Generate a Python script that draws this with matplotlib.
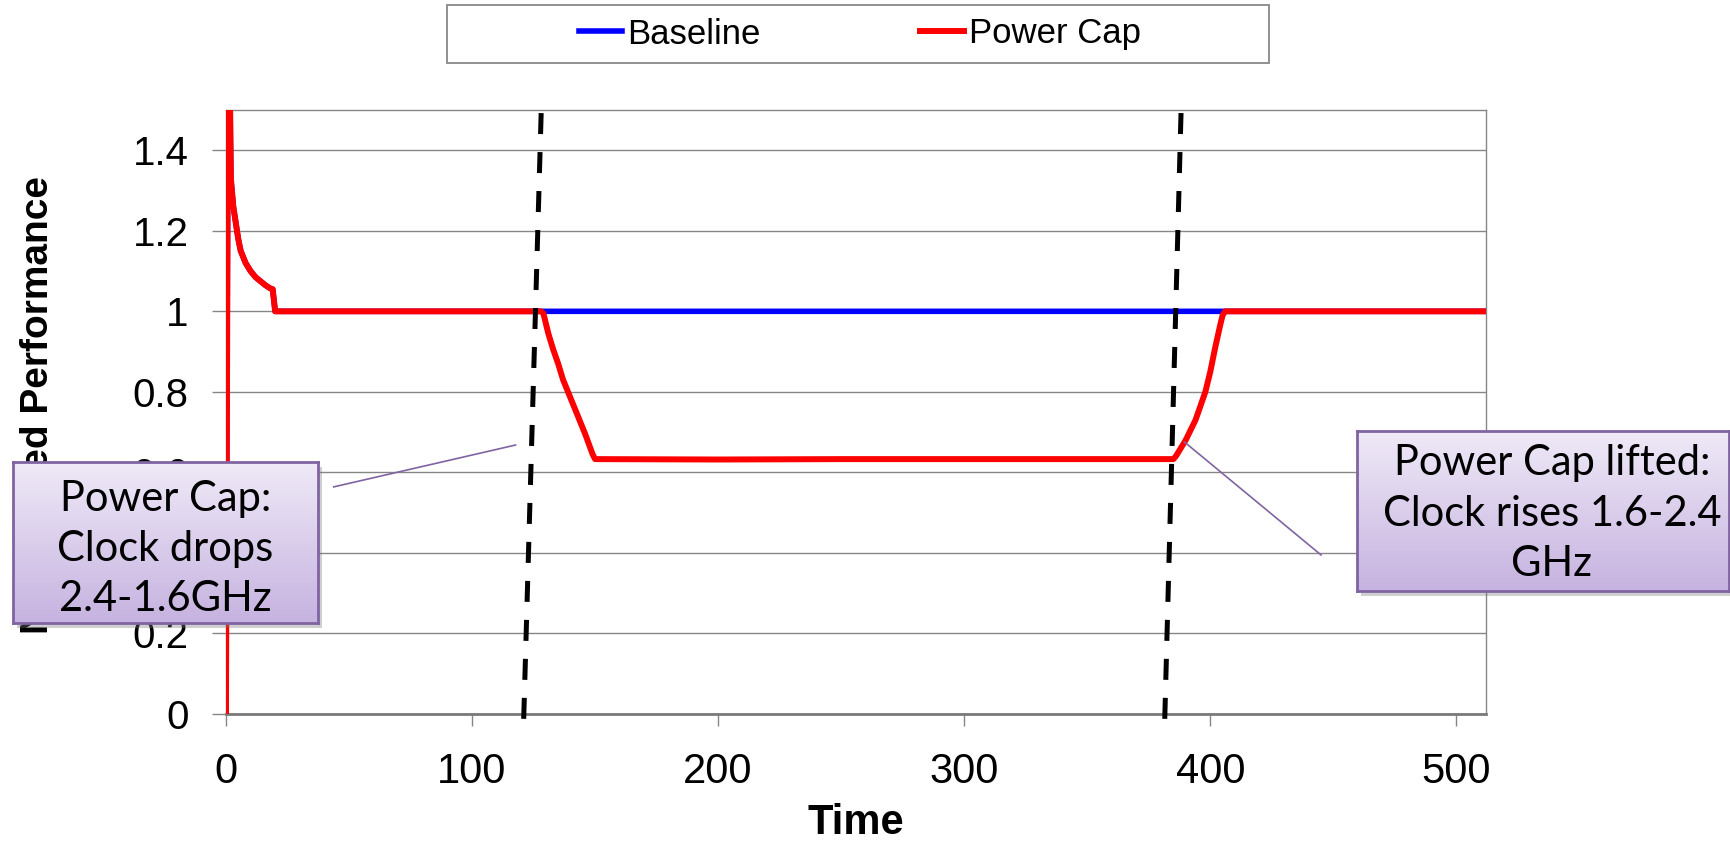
import matplotlib
matplotlib.use('Agg')
import matplotlib.pyplot as plt
import numpy as np
from matplotlib.colors import LinearSegmentedColormap
from matplotlib.patches import Rectangle

# --- data ---
time_base = [0, 1, 2, 3, 4, 5, 6, 8, 10, 12, 14, 16, 18, 19, 20, 511]
perf_base = [0.0, 1.9, 1.33, 1.26, 1.22, 1.18, 1.15, 1.12, 1.10, 1.085, 1.075,
             1.065, 1.057, 1.055, 1.0, 1.0]

time_cap = [0, 1, 2, 3, 4, 5, 6, 8, 10, 12, 14, 16, 18, 19, 20, 128, 129, 130,
            131, 133, 135, 137, 140, 143, 146, 149, 150, 200, 250, 300, 350,
            385, 386, 388, 390, 392, 394, 396, 398, 400, 402, 404, 405, 406, 511]
perf_cap = [0.0, 1.9, 1.33, 1.26, 1.22, 1.18, 1.15, 1.12, 1.10, 1.085, 1.075,
            1.065, 1.057, 1.055, 1.0, 1.0, 0.995, 0.97,
            0.945, 0.905, 0.87, 0.83, 0.785, 0.74, 0.695, 0.645, 0.633, 0.632,
            0.633, 0.633, 0.633,
            0.633, 0.64, 0.66, 0.68, 0.705, 0.73, 0.765, 0.80, 0.85, 0.91,
            0.965, 0.99, 1.0, 1.0]

# dashed markers for when the cap is applied / lifted (bottom, top)
cap_on_x = [121.0, 128.3]
cap_off_x = [381.5, 388.3]
marker_y = [-0.012, 1.535]

y_ticks = [0, 0.2, 0.4, 0.6, 0.8, 1.0, 1.2, 1.4]
y_tick_labels = ['0', '0.2', '0.4', '0.6', '0.8', '1', '1.2', '1.4']
x_ticks = [0, 100, 200, 300, 400, 500]

plt.rcParams['font.family'] = ['Liberation Sans', 'DejaVu Sans']

fig = plt.figure(figsize=(17.3, 8.5), dpi=100)
ax = fig.add_axes([0.1306, 0.16, 0.7283, 0.7106])

grid_col = '#868686'
ax.set_yticks(y_ticks, y_tick_labels)
ax.set_xticks(x_ticks)
ax.yaxis.grid(True, color=grid_col, linewidth=1.0)
ax.set_axisbelow(True)
for s in ['top', 'right', 'left']:
    ax.spines[s].set_color(grid_col)
    ax.spines[s].set_linewidth(1.0)
ax.spines['bottom'].set_color('#7a7a7a')
ax.spines['bottom'].set_linewidth(2.0)
ax.tick_params(axis='y', length=10, width=1.0, color=grid_col, pad=17, labelsize=29)
ax.tick_params(axis='x', length=8.6, width=1.0, color=grid_col, pad=19, labelsize=30)

ax.plot(time_base, perf_base, color='#0000ff', linewidth=4.0, label='Baseline',
        solid_joinstyle='round', zorder=3)
ax.plot(time_cap, perf_cap, color='#ff0000', linewidth=4.3, label='Power Cap',
        solid_joinstyle='round', zorder=4)

ax.set_xlim(0, 512)
ax.set_ylim(0, 1.5)

for xs in (cap_on_x, cap_off_x):
    ax.plot(xs, marker_y, color='black', linewidth=3.6, dashes=(4.2, 3.6),
            clip_on=False, zorder=5)

ax.set_xlabel('Time', fontsize=30, fontweight='bold')
ax.xaxis.set_label_coords(0.5, -0.147)

fig.text(38 / 1730, 0.524, 'Normalized Performance', rotation=90, ha='center',
         va='center', fontsize=28, fontweight='bold', zorder=3)

# legend above the plot inside a wide box
fig.patches.append(Rectangle((0.2584, 0.9259), 0.4751, 0.0682, transform=fig.transFigure,
                             facecolor='white', edgecolor='#888888', linewidth=1.3))
handles, labels = ax.get_legend_handles_labels()
fig.legend(handles, labels, loc='center', bbox_to_anchor=(0.497, 0.96), ncol=2,
           frameon=False, fontsize=25, handlelength=1.25, handletextpad=0.15,
           columnspacing=4.6)

# purple callout boxes
grad = LinearSegmentedColormap.from_list('callout', ['#efe9f7', '#c6b3e0'])


def callout(rect, text, tx, ty):
    x0, y0, w, h = rect
    shadow = Rectangle((x0 + 4 / 1730, y0 - 5 / 850), w, h, transform=fig.transFigure,
                       facecolor='#777777', alpha=0.35, edgecolor='none', zorder=4)
    fig.patches.append(shadow)
    bx = fig.add_axes(rect, zorder=5)
    bx.imshow(np.linspace(0, 1, 64).reshape(-1, 1), cmap=grad, aspect='auto',
              extent=[0, 1, 0, 1])
    bx.set_xticks([])
    bx.set_yticks([])
    for s in bx.spines.values():
        s.set_color('#8064a2')
        s.set_linewidth(2.0)
    bx.text(tx, ty, text, ha='center', va='center', fontsize=30, family='Lato',
            linespacing=1.4, transform=bx.transAxes)


callout([0.0075, 0.267, 0.1763, 0.1894], 'Power Cap:\nClock drops\n2.4-1.6GHz', 0.5, 0.46)
callout([0.7844, 0.3047, 0.215, 0.1882], 'Power Cap lifted:\nClock rises 1.6-2.4\nGHz',
        0.524, 0.482)

# connector lines from the boxes to the curve
ax.plot([43.8, 117.7], [0.564, 0.668], color='#8064a2', linewidth=1.2, clip_on=False, zorder=6)
ax.plot([389.4, 445.0], [0.676, 0.395], color='#8064a2', linewidth=1.2, clip_on=False, zorder=6)

fig.savefig('out.png', dpi=100)
